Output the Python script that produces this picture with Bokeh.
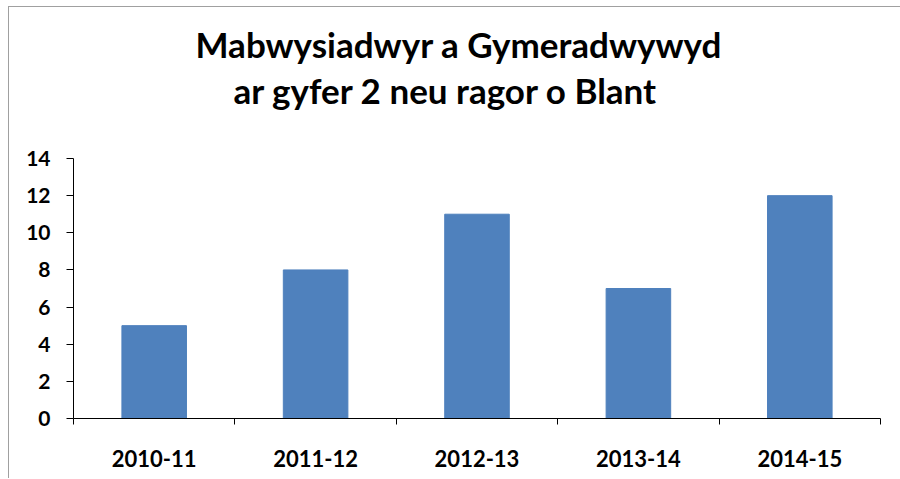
from bokeh.plotting import figure
from bokeh.models import Range1d, FixedTicker, Title
from bokeh.embed import file_html
from bokeh.resources import INLINE

categories = ["2010-11", "2011-12", "2012-13", "2013-14", "2014-15"]
values = [5, 8, 11, 7, 12]
y_ticks = [0, 2, 4, 6, 8, 10, 12, 14]
title_lines = ["Mabwysiadwyr a Gymeradwywyd", "ar gyfer 2 neu ragor o Blant"]

FONT = "Lato"
xs = [i + 0.5 for i in range(len(categories))]

p = figure(width=892, height=472, output_backend="svg", toolbar_location=None,
           x_range=Range1d(0, len(categories)), y_range=Range1d(0, 14),
           min_border_left=64, min_border_right=21, min_border_top=151,
           min_border_bottom=61)
p.styles = {"border-left": "1px solid #a0a0a0", "border-top": "1px solid #a0a0a0",
            "margin-left": "8px", "margin-top": "6px"}
p.outline_line_color = None
p.xgrid.visible = False
p.ygrid.visible = False
p.background_fill_color = "white"
p.border_fill_color = "white"
p.title.text = ""

# spacer between the frame and the title block
p.add_layout(Title(text=" ", text_font_size="1px", standoff=44), "above")
# title lines: added nearest-to-frame first
for txt, off in [(title_lines[1], 160), (title_lines[0], 122)]:
    p.add_layout(Title(text=txt, align="left", offset=off, text_font=FONT,
                       text_font_style="bold", text_font_size="35px",
                       text_color="black", standoff=2), "above")

p.vbar(x=xs, top=values, width=0.4, color="#4F81BD")

# y axis
p.yaxis.ticker = FixedTicker(ticks=y_ticks)
p.yaxis.major_tick_in = 0
p.yaxis.major_tick_out = 7
p.yaxis.minor_tick_out = 0
p.yaxis.minor_tick_in = 0
p.yaxis.axis_line_color = "black"
p.yaxis.major_tick_line_color = "black"
p.yaxis.major_label_text_font = FONT
p.yaxis.major_label_text_font_style = "bold"
p.yaxis.major_label_text_font_size = "21px"
p.yaxis.major_label_text_color = "black"
p.yaxis.major_label_standoff = 16

# x axis
p.xaxis.ticker = FixedTicker(ticks=xs, minor_ticks=list(range(len(categories) + 1)))
p.xaxis.major_label_overrides = {x: c for x, c in zip(xs, categories)}
p.xaxis.major_tick_in = 0
p.xaxis.major_tick_out = 0
p.xaxis.minor_tick_in = 0
p.xaxis.minor_tick_out = 6
p.xaxis.minor_tick_line_color = "black"
p.xaxis.axis_line_color = "black"
p.xaxis.major_label_text_font = FONT
p.xaxis.major_label_text_font_style = "bold"
p.xaxis.major_label_text_font_size = "22px"
p.xaxis.major_label_text_color = "black"
p.xaxis.major_label_standoff = 25

open("out.html", "w").write(file_html(p, INLINE))
